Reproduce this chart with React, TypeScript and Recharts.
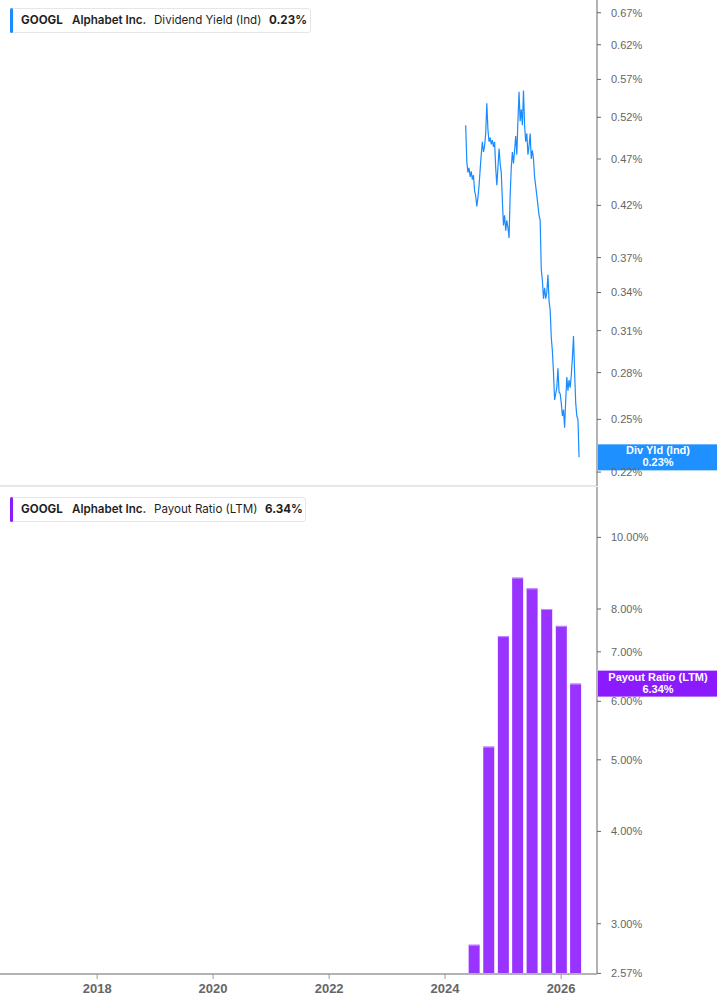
import React from 'react';
import { LineChart, Line, BarChart, Bar, XAxis, YAxis, ReferenceLine } from 'recharts';

const DAY = 86400000;

// weekly dividend yield (%), first week 2024-05-10
const yieldStart = Date.UTC(2024, 4, 10);
const yieldValues = [
  0.51, 0.467, 0.455, 0.46, 0.45, 0.456, 0.447, 0.452, 0.435, 0.43,
  0.419, 0.428, 0.44, 0.458, 0.475, 0.49, 0.478, 0.485, 0.5, 0.538,
  0.505, 0.49, 0.495, 0.487, 0.492, 0.484, 0.49, 0.46, 0.441, 0.46,
  0.482, 0.465, 0.455, 0.425, 0.4, 0.41, 0.395, 0.405, 0.398, 0.388,
  0.43, 0.46, 0.478, 0.465, 0.48, 0.497, 0.475, 0.515, 0.553, 0.515,
  0.53, 0.51, 0.555, 0.51, 0.49, 0.5, 0.475, 0.485, 0.5, 0.47,
  0.48, 0.47, 0.45, 0.44, 0.43, 0.42, 0.41, 0.405, 0.36, 0.35,
  0.335, 0.344, 0.335, 0.34, 0.355, 0.333, 0.326, 0.305, 0.295, 0.28,
  0.262, 0.266, 0.27, 0.283, 0.267, 0.266, 0.26, 0.252, 0.256, 0.245,
  0.262, 0.277, 0.268, 0.275, 0.27, 0.278, 0.29, 0.306, 0.28, 0.26,
  0.252, 0.25, 0.228,
];
const yieldTicks = [0.22, 0.25, 0.28, 0.31, 0.34, 0.37, 0.42, 0.47, 0.52, 0.57, 0.62, 0.67];

const payoutDates = ['2024-06-30', '2024-09-30', '2024-12-31', '2025-03-31', '2025-06-30', '2025-09-30', '2025-12-31', '2026-03-31'];
const payoutValues = [2.81, 5.21, 7.35, 8.82, 8.53, 8.0, 7.59, 6.34];
const payoutTicks = [2.57, 3, 4, 5, 6, 7, 8, 10];

const yearTicks = [2018, 2020, 2022, 2024, 2026];

const timeDomain = [Date.UTC(2016, 3, 29), Date.UTC(2026, 7, 15)];
const yieldData = yieldValues.map((v, i) => ({ t: yieldStart + i * 7 * DAY, v }));
const payoutData = payoutDates.map((d, i) => ({ t: Date.parse(d), v: payoutValues[i] }));

const BLUE = '#1a8cff';
const PURPLE = '#9933ff';
const AXIS = '#b3b3b3';
const tickFont = { fill: '#666', fontSize: 11, fontFamily: '"Liberation Sans", Arial, sans-serif' };

const SideLabel = ({ viewBox, color, title, value }: any) => {
  const x = viewBox.x + viewBox.width + 1;
  const y = viewBox.y;
  return (
    <g>
      <rect x={x} y={y - 13} width={120} height={26} fill={color} />
      <text x={x + 60} y={y - 3} textAnchor="middle" fill="#fff" fontSize={11} fontWeight={700}
        fontFamily='"Liberation Sans", Arial, sans-serif'>{title}</text>
      <text x={x + 60} y={y + 9} textAnchor="middle" fill="#fff" fontSize={11} fontWeight={700}
        fontFamily='"Liberation Sans", Arial, sans-serif'>{value}</text>
    </g>
  );
};

const PayoutBar = (props: any) => {
  const { x, y, width, height } = props;
  if (!height || height <= 0) return null;
  return (
    <g>
      <rect x={x} y={y} width={width} height={height} fill={PURPLE} />
      <rect x={x} y={y} width={width} height={1} fill="#c291ff" />
    </g>
  );
};

const Legend = ({ top, width, color, metric, value, valueLeft }: any) => (
  <div style={{
    position: 'absolute', left: 10, top, width, height: 25, boxSizing: 'border-box',
    border: '1px solid #e6e6e6', borderRadius: 3, background: '#fff',
    fontFamily: 'Inter, "Noto Sans", sans-serif', fontSize: 11.6, color: '#1f1f1f', whiteSpace: 'nowrap',
  }}>
    <div style={{ position: 'absolute', left: -1, top: -1, width: 3, height: 25, background: color, borderRadius: 2 }} />
    <span style={{ position: 'absolute', left: 10, top: 4, fontWeight: 700 }}>GOOGL</span>
    <span style={{ position: 'absolute', left: 61, top: 4, fontWeight: 600 }}>Alphabet Inc.</span>
    <span style={{ position: 'absolute', left: 143, top: 4, fontWeight: 400 }}>{metric}</span>
    <span style={{ position: 'absolute', left: valueLeft, top: 4, fontWeight: 700 }}>{value}</span>
  </div>
);

export default function App() {
  const lastYield = yieldValues[yieldValues.length - 1];
  const lastPayout = payoutValues[payoutValues.length - 1];
  return (
    <div style={{ position: 'absolute', left: 0, top: 0, width: 717, height: 1005, background: '#fff', overflow: 'hidden' }}>
      <LineChart width={717} height={487} data={yieldData} margin={{ top: 0, right: 0, bottom: 0, left: 0 }}>
        <XAxis dataKey="t" type="number" domain={timeDomain} allowDataOverflow height={1}
          tick={false} tickLine={false} axisLine={{ stroke: '#d0d0d0' }} />
        <YAxis orientation="right" width={120} scale="log" domain={[0.2127, 0.691]} allowDataOverflow
          ticks={yieldTicks} interval={0} tickFormatter={(v: number) => `${v.toFixed(2)}%`}
          tick={tickFont} tickSize={4} tickMargin={10} tickLine={{ stroke: '#666' }}
          axisLine={{ stroke: AXIS, strokeWidth: 2 }} />
        <Line dataKey="v" type="linear" stroke={BLUE} strokeWidth={1.2} dot={false} activeDot={false}
          isAnimationActive={false} />
        <ReferenceLine y={lastYield} stroke="none"
          label={(p: any) => <SideLabel viewBox={p.viewBox} color="#1e90ff" title="Div Yld (Ind)" value={`${lastYield.toFixed(2)}%`} />} />
      </LineChart>
      <div style={{ position: 'absolute', left: 0, top: 487 }}>
        <BarChart width={717} height={518} data={payoutData} margin={{ top: 0, right: 0, bottom: 0, left: 0 }}>
          <XAxis dataKey="t" type="number" domain={timeDomain} allowDataOverflow height={31}
            ticks={yearTicks.map((y) => Date.UTC(y, 0, 1))} interval={0}
            tickFormatter={(v: number) => String(new Date(v).getUTCFullYear())}
            tick={{ ...tickFont, fontSize: 13, fontWeight: 700 }} tickSize={5} tickMargin={5}
            tickLine={{ stroke: '#999' }} axisLine={{ stroke: AXIS, strokeWidth: 2 }} />
          <YAxis orientation="right" width={120} scale="log" domain={[2.565, 11.7]} allowDataOverflow
            ticks={payoutTicks} interval={0} tickFormatter={(v: number) => `${v.toFixed(2)}%`}
            tick={tickFont} tickSize={4} tickMargin={10} tickLine={{ stroke: '#666' }}
            axisLine={{ stroke: AXIS, strokeWidth: 2 }} />
          <Bar dataKey="v" barSize={11} shape={<PayoutBar />} isAnimationActive={false} />
          <ReferenceLine y={lastPayout} stroke="none"
            label={(p: any) => <SideLabel viewBox={p.viewBox} color="#8c1aff" title="Payout Ratio (LTM)" value={`${lastPayout.toFixed(2)}%`} />} />
        </BarChart>
      </div>
      <Legend top={8} width={301} color={BLUE} metric="Dividend Yield (Ind)" value={`${lastYield.toFixed(2)}%`} valueLeft={258} />
      <Legend top={497} width={296} color="#8c1aff" metric="Payout Ratio (LTM)" value={`${lastPayout.toFixed(2)}%`} valueLeft={254} />
    </div>
  );
}
